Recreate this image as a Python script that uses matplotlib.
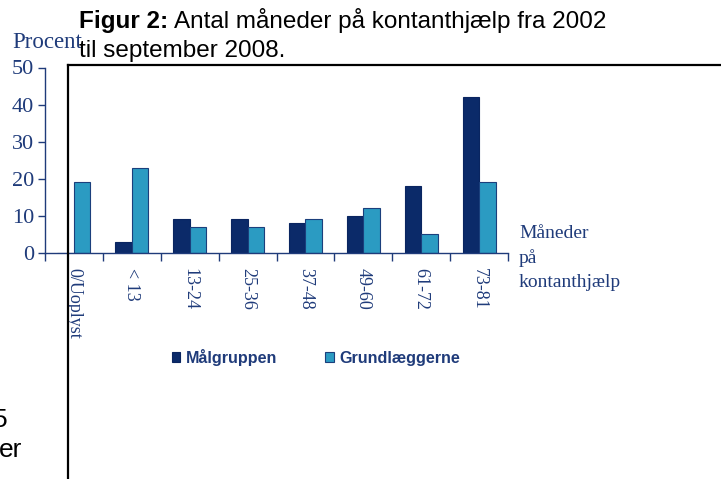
import matplotlib
matplotlib.use("Agg")
import matplotlib.pyplot as plt
from matplotlib.lines import Line2D
import numpy as np

# data
categories = ["0/Uoplyst", "< 13", "13-24", "25-36", "37-48", "49-60", "61-72", "73-81"]
maalgruppen = [0, 3, 9, 9, 8, 10, 18, 42]
grundlaeggerne = [19, 23, 7, 7, 9, 12, 5, 19]
yticks = [0, 10, 20, 30, 40, 50]

dark = "#0b2a69"
light = "#2b9bc2"
navy = "#1f3b7a"
serif = "Liberation Serif"
sans = "Liberation Sans"

W, H = 721, 479
fig = plt.figure(figsize=(W / 100, H / 100), dpi=100)

def fx(px):
    return px / W

def fy(py):
    return 1 - py / H

ax = fig.add_axes([fx(45), fy(252.7), fx(508) - fx(45), fy(67.5) - fy(252.7)])

x = np.arange(len(categories)) + 0.5
w = 0.285
b1 = ax.bar(x - w / 2, maalgruppen, w, color=dark, edgecolor="#0a2560", linewidth=0.8,
            label="Målgruppen")
b2 = ax.bar(x + w / 2, grundlaeggerne, w, color=light, edgecolor="#1b3f7c", linewidth=0.8,
            label="Grundlæggerne")

ax.set_xlim(0, len(categories))
ax.set_ylim(0, 50)
ax.set_yticks(yticks)
ax.set_yticklabels([str(t) for t in yticks], fontfamily=serif, fontsize=16, color=navy)
ax.tick_params(axis="y", direction="out", length=5, width=1, color=navy, pad=3)

ax.set_xticks(x)
ax.set_xticklabels(categories, rotation=270, fontfamily=serif, fontsize=13, color=navy,
                   va="top", ha="center")
ax.tick_params(axis="x", which="major", length=0, pad=11)
ax.set_xticks(np.arange(len(categories) + 1), minor=True)
ax.tick_params(axis="x", which="minor", direction="out", length=6, width=1, color=navy)

for s in ["top", "right"]:
    ax.spines[s].set_visible(False)
for s in ["left", "bottom"]:
    ax.spines[s].set_color(navy)
    ax.spines[s].set_linewidth(1)

ax.legend(handles=[b1, b2], loc="center", bbox_to_anchor=(fx(316), fy(357)),
          bbox_transform=fig.transFigure, ncol=2, frameon=False,
          prop={"family": sans, "weight": "bold", "size": 11.6},
          labelcolor=navy, handlelength=0.5, handleheight=0.6,
          handletextpad=0.35, columnspacing=3.0, borderpad=0)

# axis captions
fig.text(fx(12), fy(48), "Procent", fontfamily=serif, fontsize=16.5, color=navy,
         ha="left", va="baseline")
fig.text(fx(519), fy(258), "Måneder\npå\nkontanthjælp", fontfamily=serif, fontsize=14,
         color=navy, ha="left", va="center", linespacing=1.5)

# title
fig.text(fx(79), fy(28), "Figur 2:", fontfamily=sans, fontsize=17.5, fontweight="bold",
         ha="left", va="baseline")
fig.text(fx(174), fy(28), "Antal måneder på kontanthjælp fra 2002", fontfamily=sans,
         fontsize=17.5, ha="left", va="baseline")
fig.text(fx(79), fy(57), "til september 2008.", fontfamily=sans, fontsize=17.5,
         ha="left", va="baseline")

# page frame and body text fragments
fig.add_artist(Line2D([fx(68), 1], [fy(65), fy(65)], transform=fig.transFigure,
                      color="black", linewidth=1.6, zorder=10))
fig.add_artist(Line2D([fx(68), fx(68)], [fy(65), 0], transform=fig.transFigure,
                      color="black", linewidth=1.6, zorder=10))
fig.text(fx(8), fy(427), "5", fontfamily=sans, fontsize=19, ha="right", va="baseline")
fig.text(fx(22), fy(457), "er", fontfamily=sans, fontsize=19, ha="right", va="baseline")

fig.savefig("out.png", dpi=100)
